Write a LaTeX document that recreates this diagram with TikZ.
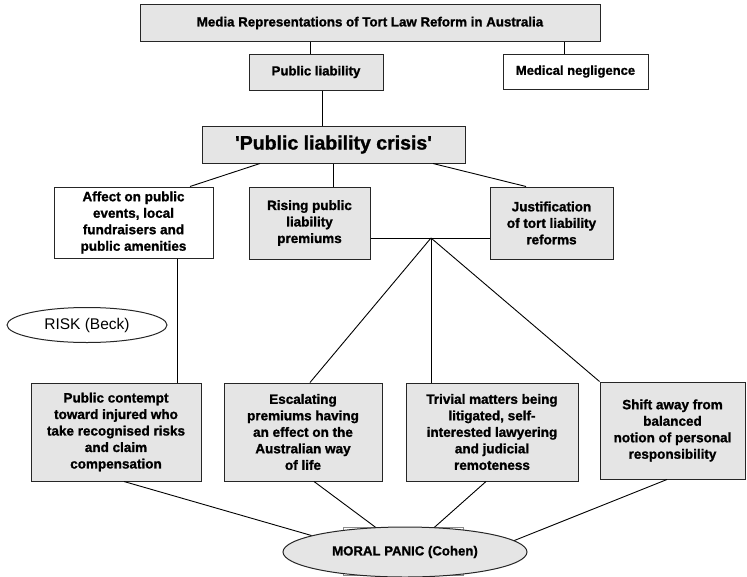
\documentclass[tikz,border=0pt]{standalone}
\usepackage{fontspec}
\setmainfont{Liberation Sans}[BoldFeatures={FakeBold=1.2}]
\usetikzlibrary{positioning,calc,shapes.geometric}

\begin{document}
\begin{tikzpicture}[x=1pt,y=1pt]
\tikzset{box/.style={draw=black!85,line width=1pt,fill=black!10,align=center,
  inner sep=2pt,font=\bfseries\fontsize{13.5}{16.5}\selectfont}}
\tikzset{whitebox/.style={box,fill=white}}
\tikzset{oval/.style={ellipse,draw=black!85,line width=1pt,inner sep=0pt}}
\tikzset{link/.style={draw,line width=0.9pt}}
\useasboundingbox (0,0) rectangle (747,-576);

% top of the tree
\node[box,minimum width=460,minimum height=37,
  font=\bfseries\fontsize{13.3}{15}\selectfont] (media) at (370,-23)
  {Media Representations of Tort Law Reform in Australia};
\node[box,minimum width=134,minimum height=36,
  font=\bfseries\fontsize{13.2}{15}\selectfont] (publ) at (316,-72) {Public liability};
\node[whitebox,minimum width=145,minimum height=35,
  font=\bfseries\fontsize{13}{15}\selectfont] (med) at (575.5,-71.5) {Medical negligence};
\node[box,minimum width=263,minimum height=37,
  font=\bfseries\fontsize{19.5}{22}\selectfont] (crisis) at (333.5,-144.5)
  {\textquotesingle Public liability crisis\textquotesingle};

% middle row
\node[whitebox,minimum width=159,minimum height=71] (affect) at (133.5,-222.5)
  {Affect on public\\events, local\\fundraisers and\\public amenities};
\node[box,minimum width=121,minimum height=72] (rising) at (309.5,-223)
  {Rising public\\liability\\premiums};
\node[box,minimum width=123,minimum height=72] (justif) at (551.5,-223)
  {Justification\\of tort liability\\reforms};
\node[oval,minimum width=160,minimum height=35,
  font=\fontsize{15.5}{17}\selectfont] (risk) at (87,-325) {RISK (Beck)};

% bottom row
\node[box,minimum width=170,minimum height=98] (contempt) at (116,-432)
  {Public contempt\\toward injured who\\take recognised risks\\and claim\\compensation};
\node[box,minimum width=158,minimum height=98] (escal) at (303,-432)
  {Escalating\\premiums having\\an effect on the\\Australian way\\of life};
\node[box,minimum width=172,minimum height=98] (trivial) at (492,-432)
  {Trivial matters being\\litigated, self-\\interested lawyering\\and judicial\\remoteness};
\node[box,minimum width=145,minimum height=97] (shift) at (672.5,-430.5)
  {Shift away from\\balanced\\notion of personal\\responsibility};

\draw[black!45,line width=1pt] (343,-527) rectangle (463,-575);
\node[oval,fill=black!10,minimum width=244,minimum height=50,
  font=\bfseries\fontsize{13.2}{15}\selectfont] (panic) at (405,-552)
  {MORAL PANIC (Cohen)};

\coordinate (hub) at (431,-238);

% connectors
\draw[link] ([xshift=-6pt]publ.north |- media.south) -- ([xshift=-6pt]publ.north);
\draw[link] ([xshift=-11.5pt]med.north |- media.south) -- ([xshift=-11.5pt]med.north);
\draw[link] ([xshift=6pt]publ.south) -- ([xshift=6pt]publ.south |- crisis.north);
\draw[link] ([xshift=-73.5pt]crisis.south) -- ([xshift=56.5pt]affect.north);
\draw[link] (crisis.south) -- (crisis.south |- rising.north);
\draw[link] ([xshift=99.5pt]crisis.south) -- ([xshift=-25.5pt]justif.north);
\draw[link] (rising.east |- hub) -- (justif.west |- hub);
\draw[link] (hub) -- ([xshift=7pt]escal.north);
\draw[link] (hub) -- (hub |- trivial.north);
\draw[link] (hub) -- (shift.north west);
\draw[link] ([xshift=43.5pt]affect.south) -- ([xshift=43.5pt]affect.south |- contempt.north);
\draw[link] ([xshift=8pt]contempt.south) -- (panic.170);
\draw[link] ([xshift=11pt]escal.south) -- (panic.140);
\draw[link] ([xshift=-6pt]trivial.south) -- (panic.40);
\draw[link] ([xshift=-5.5pt]shift.south) -- (panic.6);
\end{tikzpicture}
\end{document}
